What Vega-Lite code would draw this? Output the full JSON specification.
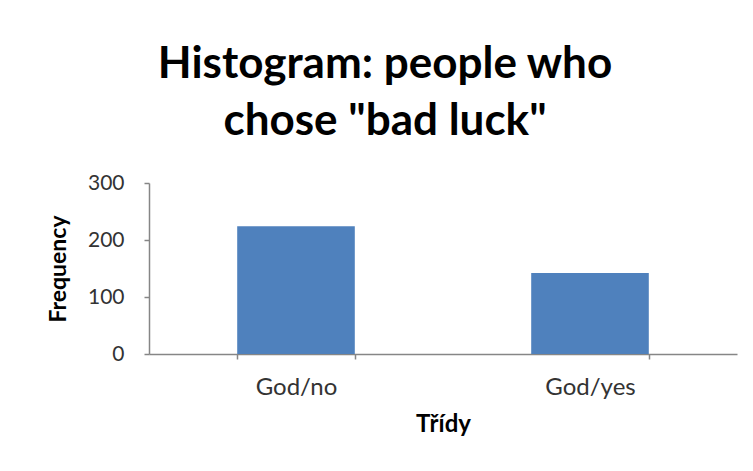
{
  "$schema": "https://vega.github.io/schema/vega-lite/v6.json",
  "width": 588,
  "height": 171,
  "autosize": {"type": "none"},
  "padding": {"left": 149, "top": 183, "right": 16, "bottom": 117},
  "background": "white",
  "title": {
    "text": ["Histogram: people who", "chose \"bad luck\""],
    "font": "Lato",
    "fontSize": 44,
    "fontWeight": "bold",
    "color": "#000000",
    "lineHeight": 57,
    "anchor": "middle",
    "dx": -58,
    "offset": 28
  },
  "data": {
    "values": [
      {"class": "God/no", "frequency": 224},
      {"class": "God/yes", "frequency": 142}
    ]
  },
  "mark": {"type": "bar", "color": "#4F81BD"},
  "encoding": {
    "x": {
      "field": "class",
      "type": "nominal",
      "sort": null,
      "title": "Třídy",
      "scale": {"paddingInner": 0.6, "paddingOuter": 0.3},
      "axis": {
        "labelAngle": 0,
        "tickBand": "extent",
        "labelFontSize": 24,
        "labelPadding": 16,
        "titleFontSize": 24,
        "titlePadding": 13
      }
    },
    "y": {
      "field": "frequency",
      "type": "quantitative",
      "title": "Frequency",
      "scale": {"domain": [0, 300]},
      "axis": {
        "values": [0, 100, 200, 300],
        "grid": false,
        "labelFontSize": 21,
        "labelPadding": 20,
        "titleFontSize": 23,
        "titlePadding": 17
      }
    }
  },
  "config": {
    "view": {"stroke": null},
    "axis": {
      "domainColor": "#868686",
      "domainWidth": 1.5,
      "tickColor": "#868686",
      "tickWidth": 1.5,
      "tickSize": 5,
      "labelFont": "Lato",
      "labelColor": "#333333",
      "titleFont": "Lato",
      "titleFontWeight": "bold",
      "titleColor": "#000000"
    }
  }
}
